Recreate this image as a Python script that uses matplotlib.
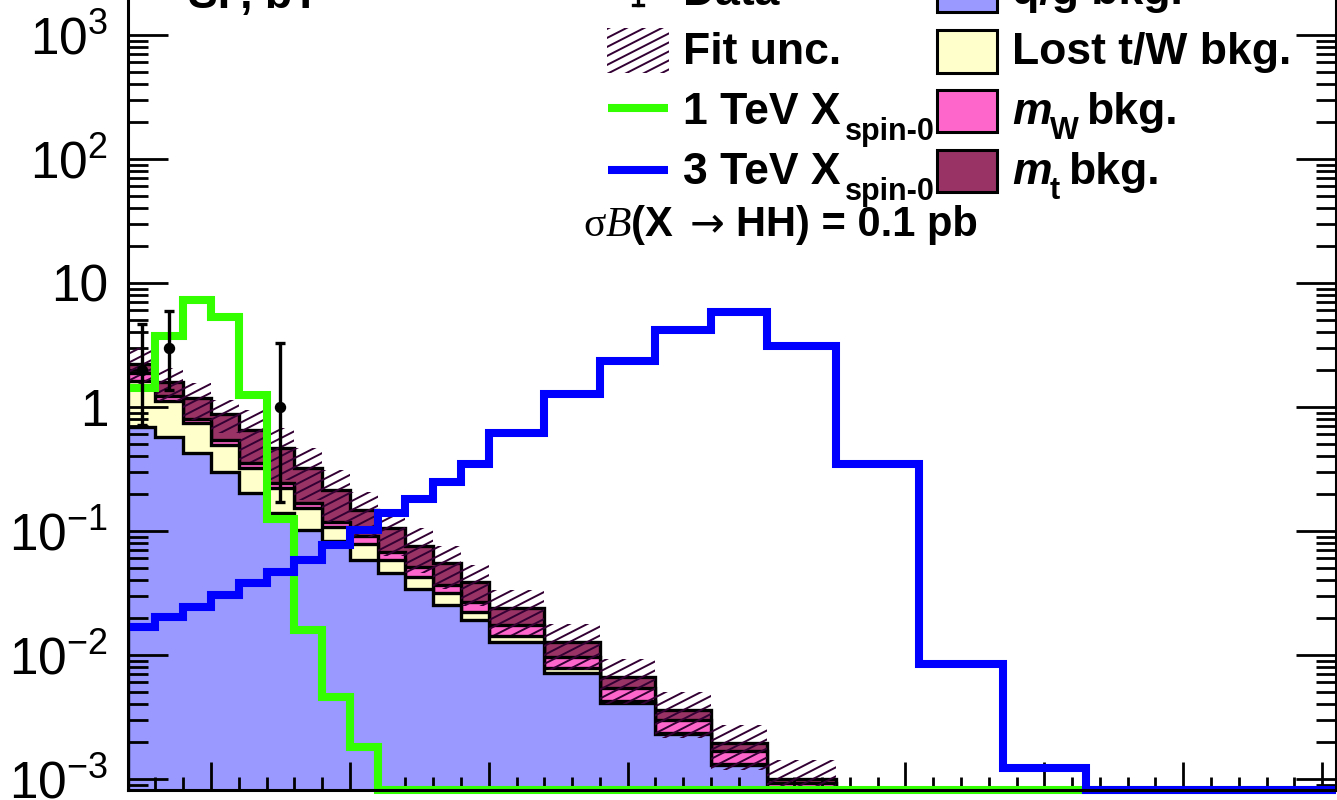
import numpy as np
import matplotlib
matplotlib.use("Agg")
import matplotlib.pyplot as plt
from matplotlib.collections import LineCollection
from matplotlib.transforms import IdentityTransform
from matplotlib.patches import Rectangle
from matplotlib.lines import Line2D
from matplotlib.ticker import MultipleLocator, NullFormatter, LogLocator

plt.rcParams['font.family'] = ['Liberation Sans', 'DejaVu Sans']
plt.rcParams['mathtext.fontset'] = 'custom'
plt.rcParams['mathtext.rm'] = 'Liberation Serif'
plt.rcParams['mathtext.it'] = 'Liberation Serif:italic'
plt.rcParams['mathtext.bf'] = 'Liberation Sans:bold'

W, H, DPI = 1337, 800, 100

# ---------------- data ----------------
bkg_edges = [700, 800, 900, 1000, 1100, 1200, 1300, 1400, 1500, 1600, 1700,
             1800, 1900, 2000, 2200, 2400, 2600, 2800, 3000, 3250]
sig_edges = bkg_edges + [3550, 3850, 4150, 5050]

qg_bkg = [0.685, 0.575, 0.428, 0.301, 0.201, 0.140, 0.102, 0.0836, 0.0583, 0.0456,
          0.0340, 0.0253, 0.0191, 0.01265, 0.0072, 0.00408, 0.00231, 0.00130, 0.00075]
lost_bkg = [0.935, 0.542, 0.312, 0.193, 0.123, 0.081, 0.050, 0.0244, 0.0202, 0.0127,
            0.0088, 0.0062, 0.0032, 0.00167, 0.0006, 0.00018, 0.00004, 0.00002, 0.00001]
mw_bkg = [0.26, 0.110, 0.060, 0.048, 0.032, 0.023, 0.016, 0.0100, 0.0127, 0.0097,
          0.0081, 0.0052, 0.0046, 0.00306, 0.0019, 0.00116, 0.00064, 0.00036, 0.00017]
mt_bkg = [0.34, 0.373, 0.375, 0.337, 0.297, 0.221, 0.153, 0.096, 0.057, 0.037,
          0.0248, 0.0183, 0.0121, 0.00666, 0.0030, 0.00126, 0.00061, 0.00028, 0.00007]
fit_unc = [0.35, 0.30, 0.33, 0.30, 0.45, 0.45, 0.45, 0.45, 0.40, 0.40,
           0.40, 0.38, 0.36, 0.40, 0.40, 0.40, 0.40, 0.40, 0.42]

sig_1tev = [1.42, 3.74, 7.3, 5.35, 1.25, 0.125, 0.0159, 0.00461, 0.00181, 0.0005,
            0.0005, 0.0005, 0.0005, 0.0005, 0.0005, 0.0005, 0.0005, 0.0005, 0.0005,
            0.0005, 0.0005, 0.0005, 0.0005]
sig_3tev = [0.0169, 0.0201, 0.0243, 0.0305, 0.0379, 0.047, 0.0583, 0.077, 0.102, 0.14,
            0.181, 0.25, 0.347, 0.617, 1.27, 2.35, 4.18, 5.87, 3.12, 0.35,
            0.0085, 0.00123, 0.0005]

data_bin = [0, 1, 5]
data_val = [2, 3, 1]
data_err_lo = [1.29, 1.63, 0.83]
data_err_hi = [2.64, 2.92, 2.30]

y_ticks = [1e-3, 1e-2, 1e-1, 1, 10, 1e2, 1e3]
y_tick_labels = [r'$\mathregular{10^{-3}}$', r'$\mathregular{10^{-2}}$',
                 r'$\mathregular{10^{-1}}$', '1', '10',
                 r'$\mathregular{10^{2}}$', r'$\mathregular{10^{3}}$']

C_QG, C_LOST, C_MW, C_MT = '#9999ff', '#ffffcc', '#ff66cc', '#993366'
C_HATCH = '#330033'
C_GREEN, C_BLUE = '#33ff00', '#0000ff'

YMIN, YMAX = 8.15e-4, 4025
XMIN, XMAX = 700, 5050


def fx(px):
    return px / W


def fy(py):
    return 1 - py / H


def hatch_collection(angle_deg=27, spacing=9.0, lw=1.4):
    t = np.tan(np.radians(angle_deg))
    offs = np.arange(-W * t - spacing, H + spacing, spacing)
    segs = [[(0, c), (W, c + t * W)] for c in offs]
    return LineCollection(segs, colors=C_HATCH, linewidths=lw,
                          transform=IdentityTransform())


fig = plt.figure(figsize=(W / DPI, H / DPI), dpi=DPI)
ax = fig.add_axes([127.7 / W, 10 / H, (1336 - 127.7) / W, 830 / H])
ax.set_yscale('log')

edges = np.array(bkg_edges, float)
c1 = np.array(qg_bkg)
c2 = c1 + np.array(lost_bkg)
c3 = c2 + np.array(mw_bkg)
c4 = c3 + np.array(mt_bkg)
for vals, col in [(c4, C_MT), (c3, C_MW), (c2, C_LOST), (c1, C_QG)]:
    ax.stairs(vals, edges, baseline=1e-7, fill=True, facecolor=col,
              edgecolor='black', linewidth=2.4, zorder=1)

u = np.array(fit_unc)
band = ax.stairs(c4 * (1 + u), edges, baseline=c4 * (1 - u), fill=True,
                 facecolor='none', edgecolor='none', zorder=1.5)
lc = hatch_collection()
lc.set_zorder(2.1)
ax.add_collection(lc, autolim=False)
lc.set_clip_path(band)

ax.stairs(np.maximum(sig_1tev, YMIN), np.array(sig_edges, float), baseline=None,
          fill=False, edgecolor=C_GREEN, linewidth=5.8, zorder=2.3, clip_on=False)
ax.stairs(np.maximum(sig_3tev, YMIN), np.array(sig_edges, float), baseline=None,
          fill=False, edgecolor=C_BLUE, linewidth=5.8, zorder=2.35, clip_on=False)

dx = [(edges[b] + edges[b + 1]) / 2 for b in data_bin]
ax.errorbar(dx, data_val, yerr=[data_err_lo, data_err_hi], fmt='o', color='black',
            ms=7.2, elinewidth=2.4, capsize=3.3, capthick=2.4, zorder=5)

ax.set_xlim(XMIN, XMAX)
ax.set_ylim(YMIN, YMAX)
ax.set_yticks(y_ticks, y_tick_labels)
ax.yaxis.set_minor_locator(LogLocator(base=10, subs=np.arange(2, 10), numticks=30))
ax.yaxis.set_minor_formatter(NullFormatter())
ax.xaxis.set_major_locator(MultipleLocator(500))
ax.xaxis.set_minor_locator(MultipleLocator(100))
ax.tick_params(axis='y', which='major', direction='in', length=28.8, width=2.0,
               left=True, right=True, pad=14, labelsize=37)
ax.tick_params(axis='y', which='minor', direction='in', length=14.4, width=2.0,
               left=True, right=True)
ax.tick_params(axis='x', which='major', direction='in', length=20, width=2.0,
               bottom=True, top=True, labelbottom=False)
ax.tick_params(axis='x', which='minor', direction='in', length=9.4, width=2.0,
               bottom=True, top=True)
for s in ax.spines.values():
    s.set_linewidth(2.2)

LEG_FS, SUB_FS = 32, 22
bold = dict(fontweight='bold', va='baseline', ha='left')

fig.text(fx(188), fy(8), "SF, bT", fontsize=LEG_FS, **bold)

# column 1
fig.add_artist(Line2D([fx(638), fx(638)], [fy(-40), fy(5)], color='black', lw=2.4,
                      transform=fig.transFigure))
fig.add_artist(Line2D([fx(633), fx(643)], [fy(5), fy(5)], color='black', lw=2.4,
                      transform=fig.transFigure))
fig.text(fx(683), fy(5), "Data", fontsize=LEG_FS, **bold)

rect = Rectangle((fx(607), fy(73)), fx(669) - fx(607), 45 / H, transform=fig.transFigure,
                 facecolor='none', edgecolor='none')
fig.add_artist(rect)
lc2 = hatch_collection()
fig.add_artist(lc2)
lc2.set_clip_path(rect)
fig.text(fx(683), fy(64), "Fit unc.", fontsize=LEG_FS, **bold)

fig.add_artist(Line2D([fx(608), fx(668)], [fy(108), fy(108)], color=C_GREEN, lw=5.8,
                      solid_capstyle='butt', transform=fig.transFigure))
fig.text(fx(683), fy(124), "1 TeV X", fontsize=LEG_FS, **bold)
fig.text(fx(845), fy(140), "spin-0", fontsize=SUB_FS, **bold)

fig.add_artist(Line2D([fx(608), fx(668)], [fy(170), fy(170)], color=C_BLUE, lw=5.8,
                      solid_capstyle='butt', transform=fig.transFigure))
fig.text(fx(683), fy(184), "3 TeV X", fontsize=LEG_FS, **bold)
fig.text(fx(845), fy(200), "spin-0", fontsize=SUB_FS, **bold)

SIG_FS = 30
fig.text(fx(583), fy(236), r"$\mathrm{\sigma}\mathit{B}$(X", fontsize=SIG_FS, **bold)
fig.text(fx(690), fy(236), "\u2192", fontsize=SIG_FS, family='DejaVu Sans',
         fontweight='normal', va='baseline', ha='left')
fig.text(fx(736), fy(236), "HH) = 0.1 pb", fontsize=SIG_FS, **bold)

# column 2
for (y0, y1, col) in [(-31, 12, C_QG), (30, 73, C_LOST), (90, 132, C_MW), (150, 192, C_MT)]:
    fig.add_artist(Rectangle((fx(937), fy(y1)), 60 / W, (y1 - y0) / H,
                             transform=fig.transFigure, facecolor=col,
                             edgecolor='black', lw=2.2))
fig.text(fx(1012), fy(4), "q/g bkg.", fontsize=LEG_FS, **bold)
fig.text(fx(1012), fy(64), "Lost t/W bkg.", fontsize=LEG_FS, **bold)
fig.text(fx(1012), fy(124), "m", fontsize=LEG_FS, fontstyle='italic', **bold)
fig.text(fx(1050), fy(139), "W", fontsize=SUB_FS, **bold)
fig.text(fx(1086), fy(124), "bkg.", fontsize=LEG_FS, **bold)
fig.text(fx(1012), fy(184), "m", fontsize=LEG_FS, fontstyle='italic', **bold)
fig.text(fx(1050), fy(199), "t", fontsize=SUB_FS, **bold)
fig.text(fx(1068), fy(184), "bkg.", fontsize=LEG_FS, **bold)

fig.savefig("out.png", dpi=DPI)
